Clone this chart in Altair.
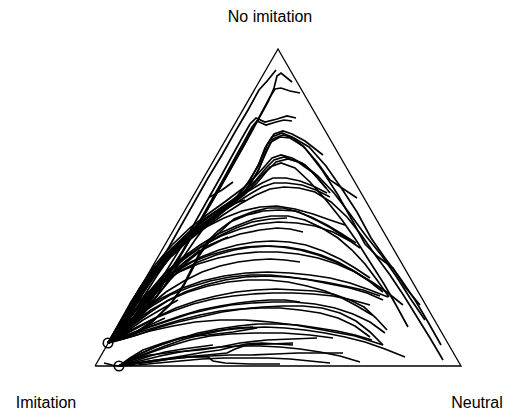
import altair as alt
import pandas as pd

# Ternary frame: Imitation vertex at (0,0), Neutral at (366,0), No imitation at (183,317)
triangle_x = [0, 366, 183, 0]
triangle_y = [0, 0, 317, 0]

# end points (circles)
end_x = [13, 24]
end_y = [23, 0]

# trajectories hugging the left side (to the upper end point)
edge_paths = [
    [(181,296),(173,286),(164,276),(153,256),(140,234),(127,211),(113,188),(100,165),(87,142),(74,119),(60,96),(47,73),(34,50),(22,32),(13,23)],
    [(197,284),(186,293),(182,290),(179,278),(173,264),(163,246),(151,224),(138,201),(125,178),(111,154),(97,130),(82,104),(65,78),(47,54),(29,34),(13,23)],
    [(205,273),(195,275),(186,278),(180,277),(175,269),(167,254),(157,236),(145,214),(132,191),(119,168),(105,144),(91,120),(75,94),(57,68),(38,45),(23,30),(13,23)],
    [(201,248),(192,250),(182,247),(170,244),(161,248),(155,242),(147,228),(137,210),(125,188),(112,165),(98,140),(83,114),(67,88),(49,62),(31,39),(13,23)],
    [(197,245),(189,246),(181,244),(171,241),(162,245),(157,239),(150,226),(141,210),(129,188),(116,165),(102,140),(87,114),(70,88),(52,62),(33,39),(13,23)],
    [(138,184),(127,176),(115,169)],
    [(72,90),(62,70),(51,59)],
    [(150,166),(135,161),(120,154),(105,144),(91,130),(77,112),(63,92),(49,70),(35,48),(13,23)],
    [(117,149),(100,126),(85,104),(68,78),(50,54),(31,35),(13,23)],
    [(133,129),(110,119),(92,104),(75,86),(57,64),(39,44),(13,23)],
]

# high humps
upper_paths = [
    [(325,61),(310,79),(298,98),(282,110),(270,122),(257,146),(243,171),(227,196),(210,218),(197,229),(187,233),(177,229),(170,218),(163,200),(151,180),(137,164),(120,150),(105,138),(87,124),(68,107),(51,87),(36,64),(24,42),(13,23)],
    [(228,211),(210,225),(197,232),(188,235),(179,232),(172,221),(165,204),(155,186),(142,169),(125,155),(109,143),(91,129),(72,112),(55,93),(40,70),(26,46),(13,23)],
    [(346,21),(333,44),(320,66),(305,88),(290,108),(276,128),(262,154),(247,177),(231,200),(214,219),(199,228),(188,231),(178,227),(171,215),(164,197),(153,178),(139,163),(122,149),(105,136),(86,120),(67,102),(50,81),(35,57),(23,36),(13,23)],
    [(262,168),(247,178),(235,186),(222,204),(208,220),(195,228),(185,229),(176,224),(170,211),(162,193),(150,175),(135,161),(117,148),(101,135),(82,119),(63,100),(46,77),(31,52),(13,23)],
    [(235,173),(223,188),(210,201),(197,208),(186,211),(177,208),(170,200),(160,189),(147,177),(131,165),(113,152),(95,138),(77,121),(60,101),(44,77),(30,51),(13,23)],
    [(231,178),(217,194),(203,204),(189,209),(179,206),(171,198),(161,186),(148,174),(132,162),(114,149),(96,135),(78,118),(61,98),(45,74),(30,48),(13,23)],
    [(330,46),(315,68),(301,90),(287,110),(271,130),(255,152),(239,173),(223,190),(207,203),(193,207),(181,204),(172,195),(162,183),(149,171),(133,159),(115,146),(97,132),(79,115),(62,95),(46,71),(31,46),(13,23)],
    [(313,39),(301,61),(289,82),(275,104),(261,126),(247,146),(231,166),(215,184),(200,198),(186,203),(175,199),(165,189),(153,176),(137,163),(119,149),(101,135),(83,118),(65,98),(49,74),(33,48),(13,23)],
    [(232,173),(218,180),(205,185),(191,188),(178,188),(167,183),(157,177),(143,169),(127,159),(110,147),(93,133),(75,116),(59,96),(44,73),(30,48),(13,23)],
    [(235,169),(221,176),(207,181),(192,183),(179,183),(167,179),(155,172),(141,163),(125,153),(108,141),(91,127),(74,110),(58,90),(43,68),(29,45),(13,23)],
    [(348,6),(335,28),(322,49),(309,70),(295,91),(281,110),(267,130),(252,149),(236,164),(220,174),(204,178),(189,179),(175,177),(161,171),(145,162),(128,151),(111,139),(93,125),(75,108),(58,88),(42,66),(28,43),(13,23)],
]

# middle humps
middle_paths = [
    [(265,118),(251,128),(236,138),(221,146),(204,154),(188,158),(173,158),(157,154),(139,147),(125,134),(113,123),(104,110),(97,96),(88,79),(75,61),(57,44),(37,30),(13,23)],
    [(261,123),(247,132),(232,141),(216,149),(200,155),(184,156),(168,155),(152,151),(135,144),(123,135),(112,124),(104,112),(97,98),(89,82),(77,64),(60,47),(40,33),(13,23)],
    [(294,69),(282,86),(270,102),(257,116),(243,128),(227,138),(210,146),(193,150),(176,150),(159,147),(141,140),(123,132),(105,121),(87,108),(69,92),(53,73),(38,52),(25,35),(13,23)],
    [(192,148),(175,147),(157,144),(141,138),(124,130),(106,119),(88,106),(70,90),(54,71),(39,50),(25,34),(13,23)],
    [(208,134),(195,137),(182,138),(165,136),(145,132),(127,126),(109,117),(91,105),(73,90),(57,72),(42,52),(28,35),(13,23)],
    [(255,125),(238,134),(220,140),(202,143),(183,144),(164,142),(145,137),(126,130),(107,120),(89,108),(71,93),(55,75),(40,55),(26,37),(13,23)],
    [(250,141),(235,146),(218,152),(200,157),(182,160),(165,159),(147,155),(129,148),(111,139),(93,127),(76,112),(60,94),(45,72),(30,48),(13,23)],
    [(275,88),(260,98),(245,107),(228,115),(211,121),(194,124),(177,125),(160,124),(142,121),(124,116),(106,109),(88,100),(71,88),(55,73),(40,55),(26,37),(13,23)],
    [(273,86),(257,96),(241,104),(223,111),(205,116),(187,119),(169,120),(151,119),(133,116),(115,111),(97,104),(80,94),(63,81),(48,66),(33,48),(13,23)],
    [(288,74),(274,85),(259,95),(243,104),(226,111),(209,116),(192,119),(175,120),(157,119),(139,116),(121,111),(103,104),(85,95),(68,83),(52,68),(37,51),(24,35),(13,23)],
    [(205,104),(190,106),(175,107),(159,106),(143,104),(125,100),(107,94),(89,85),(71,74),(54,60),(38,45),(23,32),(13,23)],
    [(308,61),(293,73),(277,84),(260,94),(242,102),(223,108),(203,112),(183,114),(163,114),(143,112),(123,108),(103,102),(84,94),(66,84),(50,71),(35,55),(23,38),(13,23)],
    [(293,69),(275,76),(255,83),(235,88),(215,91),(195,93),(173,94),(151,93),(129,90),(107,85),(85,77),(65,67),(47,55),(31,40),(13,23)],
    [(288,66),(272,73),(255,78),(235,82),(215,86),(195,89),(175,91),(155,91),(135,89),(115,85),(95,79),(75,71),(57,60),(40,48),(25,35),(13,23)],
    [(285,70),(268,76),(250,80),(230,84),(210,87),(190,89),(170,90),(150,89),(130,86),(110,81),(90,74),(72,65),(54,53),(38,41),(13,23)],
    [(277,51),(262,60),(247,68),(230,75),(212,80),(193,84),(173,86),(153,86),(133,84),(113,80),(93,74),(74,66),(56,56),(39,44),(24,32),(13,23)],
    [(292,36),(281,48),(269,59),(255,66),(238,72),(220,75),(201,76),(181,77),(161,76),(141,74),(121,70),(101,65),(81,58),(62,49),(44,39),(27,30),(13,23)],
    [(205,64),(190,66),(175,66),(160,65),(143,63),(125,60),(105,56),(85,50),(65,43),(45,36),(27,29),(13,23)],
    [(288,21),(275,34),(261,45),(245,53),(227,58),(208,60),(188,60),(168,59),(148,57),(127,54),(105,49),(83,44),(62,38),(42,31),(25,26),(13,23)],
    [(288,21),(260,30),(228,36),(200,41),(175,44),(150,46),(125,46),(100,44),(78,40),(55,35),(35,29),(13,23)],
    [(275,61),(257,66),(238,70),(218,72),(198,73),(178,73),(158,72),(138,70),(118,67),(98,62),(78,55),(58,47),(40,38),(25,30),(13,23)],
    [(275,29),(260,40),(243,48),(225,53),(205,56),(185,58),(165,58),(145,57),(125,55),(105,51),(85,46),(65,40),(45,34),(27,28),(13,23)],
    [(290,33),(275,44),(258,52),(240,58),(220,62),(199,64),(178,64),(157,63),(136,61),(115,57),(94,52),(73,45),(52,38),(33,30),(13,23)],
    [(105,116),(90,104),(75,90),(60,74),(45,56),(29,38),(13,23)],
    [(83,66),(65,56),(48,46),(31,34),(13,23)],
    [(70,48),(55,41),(40,34),(25,28),(13,23)],
]

# low trajectories (to the lower end point)
lower_paths = [
    [(310,9),(290,17),(270,24),(250,29),(230,33),(210,36),(190,38),(170,39),(150,38),(130,36),(110,32),(90,27),(70,20),(52,13),(37,7),(24,0)],
    [(265,4),(245,10),(225,14),(205,17),(185,19),(165,20),(145,20),(125,19),(105,17),(85,14),(65,10),(45,5),(24,0)],
    [(277,26),(260,31),(242,35),(223,38),(203,41),(183,42),(163,42),(143,40),(123,37),(103,33),(83,27),(65,21),(49,14),(35,7),(24,0)],
    [(248,13),(225,13),(203,13),(180,12),(157,11),(135,11),(115,10),(95,9),(75,7),(55,4),(37,2),(24,0)],
    [(198,21),(183,22),(167,23),(151,22),(137,19),(125,16),(110,14),(93,11),(75,8),(55,5),(37,2),(24,0)],
    [(185,2),(155,2),(130,3),(118,5),(113,9),(95,9),(75,7),(55,4),(37,2),(24,0)],
    [(235,3),(215,5),(195,7),(173,8),(151,8),(129,8),(107,7),(85,5),(63,3),(43,1),(24,0)],
    [(238,28),(215,31),(188,33),(160,33),(135,32),(115,30),(95,26),(75,20),(57,14),(40,7),(24,0)],
    [(158,39),(140,38),(120,35),(100,31),(80,26),(60,19),(43,11),(24,0)],
    [(118,21),(103,19),(88,17),(70,14),(55,10),(40,5),(24,0)],
    [(222,28),(197,27),(172,26),(145,23),(125,19),(105,16),(80,14),(55,11),(38,6),(24,0)],
    [(162,38),(138,34),(113,31),(88,29),(68,23),(48,16),(35,8),(24,0)],
    [(198,23),(175,22),(152,21),(140,17),(132,13),(112,11),(88,9),(62,6),(40,3),(24,0)],
    [(9,3),(17,1),(24,0)],
]

label_text = ["No imitation", "Imitation", "Neutral"]
label_x = [175, -49, 382]
label_y = [349, -37, -37]

rows = []
tid = 0
for group in (edge_paths, upper_paths, middle_paths, lower_paths):
    for path in group:
        for i, (x, y) in enumerate(path):
            rows.append({"traj": tid, "seq": i, "x": x, "y": y})
        tid += 1
paths_df = pd.DataFrame(rows)

tri_df = pd.DataFrame({"x": triangle_x, "y": triangle_y, "seq": list(range(len(triangle_x)))})
end_df = pd.DataFrame({"x": end_x, "y": end_y})
lab_df = pd.DataFrame({"text": label_text, "x": label_x, "y": label_y})

xs = alt.Scale(domain=[-87, 412], nice=False, zero=False)
ys = alt.Scale(domain=[-46, 358], nice=False, zero=False)

tri = alt.Chart(tri_df).mark_line(color="black", strokeWidth=1.3).encode(
    x=alt.X("x:Q", scale=xs, axis=None),
    y=alt.Y("y:Q", scale=ys, axis=None),
    order="seq:Q",
)

lines = alt.Chart(paths_df).mark_line(color="black", strokeWidth=1.7).encode(
    x=alt.X("x:Q", scale=xs, axis=None),
    y=alt.Y("y:Q", scale=ys, axis=None),
    detail="traj:N",
    order="seq:Q",
)

ends = alt.Chart(end_df).mark_point(shape="circle", filled=False, color="black", size=90, strokeWidth=1.6, opacity=1).encode(
    x=alt.X("x:Q", scale=xs, axis=None),
    y=alt.Y("y:Q", scale=ys, axis=None),
)

labels = alt.Chart(lab_df).mark_text(font="Liberation Sans", fontSize=16, color="black", baseline="middle", align="center").encode(
    x=alt.X("x:Q", scale=xs, axis=None),
    y=alt.Y("y:Q", scale=ys, axis=None),
    text="text:N",
)

chart = alt.layer(tri, lines, ends, labels).properties(
    width=499, height=404, autosize=alt.AutoSizeParams(type="none"), padding=0
).configure_view(strokeWidth=0, stroke=None, fill=None)

chart.save("out.html", embed_options={"renderer": "svg", "actions": False})
